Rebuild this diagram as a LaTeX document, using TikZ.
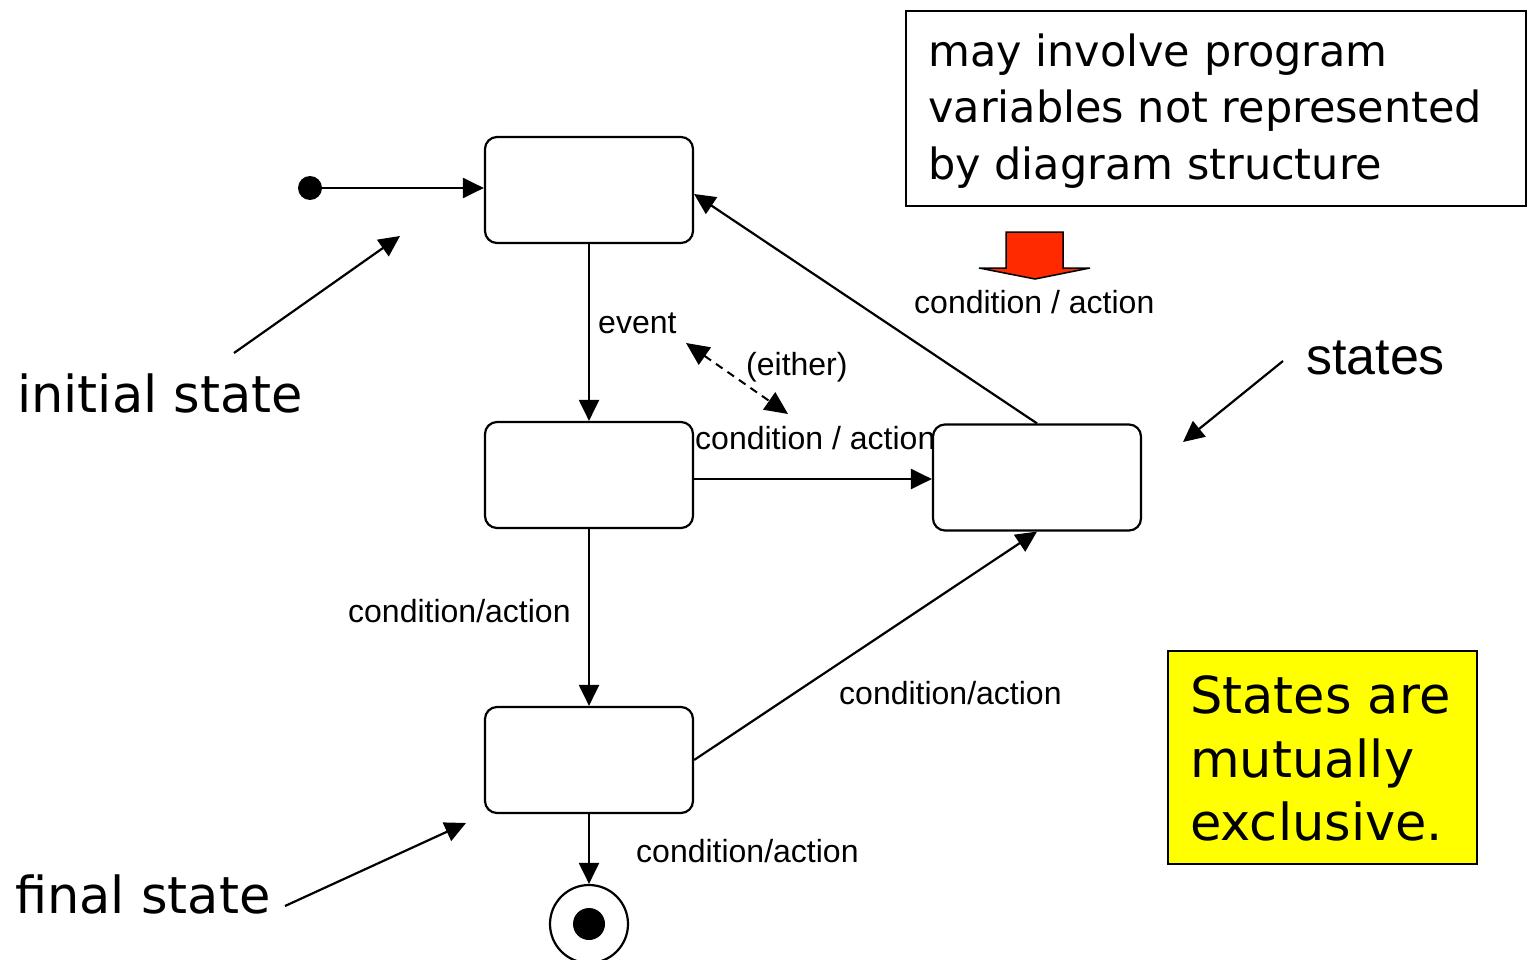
\documentclass[tikz,border=0pt]{standalone}
\usepackage{fontspec}
\setmainfont{Liberation Sans}
\newfontfamily\handfont{DejaVu Sans}
\usetikzlibrary{arrows.meta}
\definecolor{arrowred}{RGB}{255,42,0}
\definecolor{noteyellow}{RGB}{255,255,0}
\begin{document}
\begin{tikzpicture}[x=1pt,y=-1pt,
  state/.style={draw,line width=2.2pt,rounded corners=12pt,minimum width=208pt,minimum height=106pt,inner sep=0pt},
  tr/.style={line width=2.2pt,-{Triangle[length=21pt,width=20pt]}},
  lbl/.style={anchor=base west,inner sep=0pt,font=\fontsize{32}{38}\selectfont},
  hand/.style={anchor=base west,inner sep=0pt,font=\handfont\fontsize{51}{60}\selectfont},
  note/.style={anchor=base west,inner sep=0pt,font=\handfont\fontsize{43}{56}\selectfont}]
\useasboundingbox (0,0) rectangle (1530,960);

% states
\node[state] (s1) at (589,190) {};
\node[state] (s2) at (589,475) {};
\node[state] (s3) at (589,760) {};
\node[state] (s4) at (1037,477.5) {};
\node[circle,fill,minimum size=24pt,inner sep=0pt] (init) at (310,188) {};
\node[circle,draw,line width=2.2pt,minimum size=78pt,inner sep=0pt] (fin) at (589,924) {};
\node[circle,fill,minimum size=32pt,inner sep=0pt] (finin) at (fin.center) {};

% transitions
\draw[tr] (init) -- (init -| s1.west);
\draw[tr] (s1.south) -- (s2.north);
\draw[tr] ([yshift=-4pt]s2.east) -- ([yshift=-4pt]s2.east -| s4.west);
\draw[tr] (s2.south) -- (s3.north);
\draw[tr] (s3.east) -- (s4.south);
\draw[tr] (s3.south) -- (fin.north);
\draw[tr] (s4.north) -- ([yshift=-4pt]s1.east);

% transition labels
\node[lbl] (levent) at (598,333) {event};
\node[lbl] (leither) at (746,375) {(either)};
\node[lbl] (lmid) at (695,449) {condition / action};
\node[lbl] (ltop) at (914,313) {condition / action};
\node[lbl] (lleft) at (348,622) {condition/action};
\node[lbl] (lright) at (839,704) {condition/action};
\node[lbl] (lbot) at (636,862) {condition/action};

% dashed (either) arrow
\coordinate (d1) at (686,343);
\coordinate (d2) at (788,414);
\draw[line width=2pt,dash pattern=on 8pt off 6pt,{Triangle[length=23pt,width=21pt]}-{Triangle[length=23pt,width=21pt]}] (d1) -- (d2);

% note box
\node[draw,line width=2.2pt,minimum width=620pt,minimum height=195pt,anchor=north west,inner sep=0pt] (notebox) at (905,10) {};
\node[note] (n1) at (928,67) {may involve program};
\node[note] (n2) at (928,123) {variables not represented};
\node[note] (n3) at (928,180) {by diagram structure};

% red block arrow
\draw[fill=arrowred,line width=1.5pt,line join=miter] (1006,232) -- (1063,232) -- (1063,268) -- (1090,268) -- (1035,279) -- (979,268) -- (1006,268) -- cycle;

% yellow box
\node[draw,fill=noteyellow,line width=2.2pt,minimum width=309pt,minimum height=213pt,anchor=north west,inner sep=0pt] (ybox) at (1167,650) {};
\node[hand] (y1) at (1190,713) {States are};
\node[hand] (y2) at (1190,777) {mutually};
\node[hand] (y3) at (1190,840) {exclusive.};

% side labels
\node[hand] (tinit) at (17,412) {initial state};
\node[hand] (tfinal) at (15,913) {final state};
\node[anchor=base west,inner sep=0pt,font=\fontsize{52}{60}\selectfont] (tstates) at (1306,374) {states};

\coordinate (ia) at (234,353);
\coordinate (ib) at (400,236);
\coordinate (sa) at (1283,361);
\coordinate (sb) at (1183,442);
\coordinate (fa) at (285,906);
\coordinate (fb) at (466,823);
\draw[tr] (ia) -- (ib);
\draw[tr] (sa) -- (sb);
\draw[tr] (fa) -- (fb);
\end{tikzpicture}
\end{document}
